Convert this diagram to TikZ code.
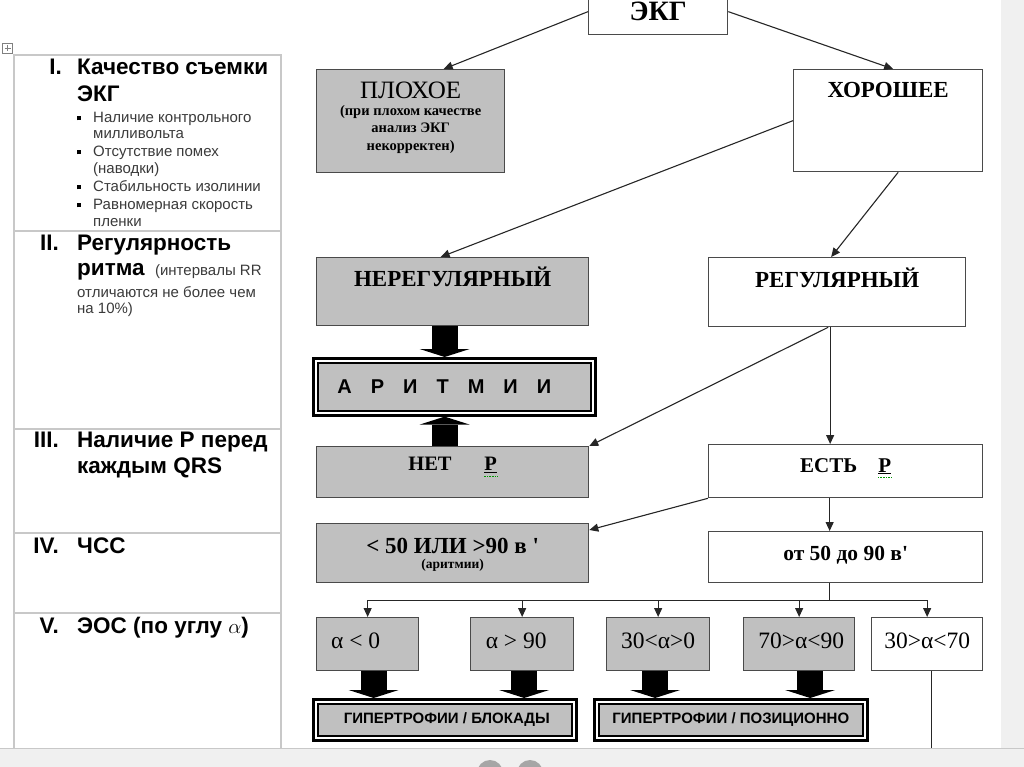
\documentclass[tikz,border=0pt]{standalone}
\usepackage{fontspec}
\setmainfont{Liberation Serif}
\setsansfont{Liberation Sans}
\usetikzlibrary{arrows.meta,positioning,calc}
\definecolor{boxgrey}{HTML}{C0C0C0}
\definecolor{boxline}{HTML}{4A4A4A}
\definecolor{rulegrey}{HTML}{C8C8C8}
\definecolor{notegrey}{HTML}{3A3A3A}
\definecolor{bargrey}{HTML}{F0F0F0}
\newcommand{\fs}[2]{\fontsize{#1}{#2}\selectfont}
\newcommand{\bul}{\raisebox{2.5pt}{\rule{4pt}{4pt}}}
\newcommand{\gap}{\hspace{0.95em}}
\tikzset{
    box/.style={
        draw=boxline,
        line width=1.3pt,
        inner sep=0pt,
        anchor=north west
    },
    greybox/.style={box, fill=boxgrey},
    framed/.style={
        draw=black,
        line width=2.6pt,
        fill=white,
        inner sep=0pt,
        anchor=north west,
        path picture={
            \filldraw[fill=boxgrey, line width=1.4pt]
              ([shift={(4.5pt,-4.5pt)}]path picture bounding box.north west) rectangle
              ([shift={(-4.5pt,4.5pt)}]path picture bounding box.south east);
        }
    },
    title/.style={inner sep=0pt, font=\bfseries\fs{23}{26}},
    note/.style={inner sep=0pt, align=center, font=\bfseries\fs{14.5}{17.5}},
    alab/.style={inner sep=0pt, font=\fs{23.5}{26}},
    frametext/.style={inner sep=0pt, font=\sffamily\bfseries\fs{15}{17}},
    lhead/.style={inner sep=0pt, anchor=base west, font=\sffamily\bfseries\fs{22.5}{26}},
    lnum/.style={inner sep=0pt, anchor=base east, font=\sffamily\bfseries\fs{22.5}{26}},
    lnote/.style={inner sep=0pt, anchor=base west, text=notegrey, font=\sffamily\fs{15}{17}},
    arrow/.style={
        -{Triangle[length=9pt,width=8pt]},
        line width=1.1pt,
        draw=black!85
    },
    line/.style={line width=1.1pt, draw=black!85},
    fat/.style={
        line width=26pt,
        -{Triangle[length=8pt,width=50pt,line width=0pt]}
    }
}

\begin{document}
\begin{tikzpicture}[x=1pt, y=-1pt]
\useasboundingbox (0,0) rectangle (1024,767);

% left table
\draw[rulegrey, line width=1.3pt] (14,55) rectangle (281,770);
\foreach \yy in {231,429,533,613}
    \draw[rulegrey, line width=1.3pt] (14,\yy) -- (281,\yy);
\draw[gray, line width=0.8pt] (2.5,43) rectangle (12.5,53);
\draw[gray, line width=0.8pt] (4.5,48) -- (10.5,48) (7.5,45) -- (7.5,51);

\node[lnum] (n1) at (62,75) {I.};
\node[lhead] (h1) at (77,75) {Качество съемки};
\node[lhead] (h1b) at (77,102) {ЭКГ};
\foreach \txt/\yy in {Наличие контрольного/123, милливольта/139,
    Отсутствие помех/157, (наводки)/174, Стабильность изолинии/192,
    Равномерная скорость/210, пленки/226}
    \node[lnote] at (93,\yy) {\txt};
\foreach \yy in {123,157,192,210}
    \node[lnote, text=black] at (77,\yy) {\bul};

\node[lnum] (n2) at (59,250) {II.};
\node[lhead] (h2) at (77,250) {Регулярность};
\node[lhead] (h2b) at (77,275) {ритма {\mdseries\color{notegrey}\fs{15}{17} (интервалы RR}};
\node[lnote] (h2c) at (77,297) {отличаются не более чем};
\node[lnote] (h2d) at (77,313) {на 10\%)};

\node[lnum] (n3) at (59,447) {III.};
\node[lhead] (h3) at (77,447) {Наличие Р перед};
\node[lhead] (h3b) at (77,473) {каждым QRS};

\node[lnum] (n4) at (59,553) {IV.};
\node[lhead] (h4) at (77,553) {ЧСС};

\node[lnum] (n5) at (59,633) {V.};
\node[lhead] (h5) at (77,633) {ЭОС (по углу $\alpha$)};

% flow chart
\node[box, minimum width=139pt, minimum height=46pt, font=\bfseries\fs{28}{30}]
    (ekg) at (588,-12) {ЭКГ};

\node[greybox, minimum width=188pt, minimum height=103pt] (bad) at (316,69) {};
\node[title, font=\fs{25}{28}, below=13pt of bad.north] (badt) {ПЛОХОЕ};
\node[note, below=6pt of badt] (badn) {(при плохом качестве\\анализ ЭКГ\\некорректен)};

\node[box, minimum width=189pt, minimum height=102pt] (good) at (793,69) {};
\node[title, below=13pt of good.north] (goodt) {ХОРОШЕЕ};

\node[greybox, minimum width=272pt, minimum height=68pt] (irr) at (316,257) {};
\node[title, below=10pt of irr.north] (irrt) {НЕРЕГУЛЯРНЫЙ};

\node[box, minimum width=257pt, minimum height=69pt] (reg) at (708,257) {};
\node[title, below=11pt of reg.north] (regt) {РЕГУЛЯРНЫЙ};

\node[framed, minimum width=282pt, minimum height=57pt] (arr) at (312,357) {};
\node[inner sep=0pt, font=\sffamily\bfseries\fs{20}{24}] (arrt) at ([xshift=-10pt]arr.center)
    {А\gap Р\gap И\gap Т\gap М\gap И\gap И};

\node[greybox, minimum width=272pt, minimum height=51pt] (nop) at (316,446) {};
\node[title, font=\bfseries\fs{20.5}{24}, below=11pt of nop.north] (nopt) {НЕТ\hspace{1.6em}\underline{Р}};

\node[box, minimum width=274pt, minimum height=53pt] (yesp) at (708,444) {};
\node[title, font=\bfseries\fs{21}{24}, below=14pt of yesp.north] (yespt) {ЕСТЬ\hspace{1em}\underline{Р}};

\node[greybox, minimum width=272pt, minimum height=59pt] (hrx) at (316,523) {};
\node[title, below=15pt of hrx.north] (hrxt) {< 50 ИЛИ >90 в \textquotesingle};
\node[note, font=\bfseries\fs{13.5}{15}, below=5pt of hrxt] (hrxn) {(аритмии)};

\node[box, minimum width=274pt, minimum height=51pt] (hrn) at (708,531) {};
\node[title, font=\bfseries\fs{21.5}{24}, below=15pt of hrn.north] (hrnt) {от 50 до 90 в\textquotesingle};

\node[greybox, minimum width=102pt, minimum height=53pt] (a1) at (316,617) {};
\node[greybox, minimum width=103pt, minimum height=53pt] (a2) at (470,617) {};
\node[greybox, minimum width=103pt, minimum height=53pt] (a3) at (606,617) {};
\node[greybox, minimum width=111pt, minimum height=53pt] (a4) at (743,617) {};
\node[box, minimum width=111pt, minimum height=53pt] (a5) at (871,617) {};
\node[alab] (a1t) at ([xshift=-12pt,yshift=3pt]a1.center) {α < 0};
\node[alab] (a2t) at ([xshift=-6pt,yshift=3pt]a2.center) {α > 90};
\node[alab] (a3t) at ([yshift=3pt]a3.center) {30<α>0};
\node[alab] (a4t) at ([xshift=2pt,yshift=3pt]a4.center) {70>α<90};
\node[alab] (a5t) at ([yshift=3pt]a5.center) {30>α<70};

\node[framed, minimum width=263pt, minimum height=41pt] (hb) at (312,698) {};
\node[frametext] (hbt) at ([xshift=2pt]hb.center) {ГИПЕРТРОФИИ / БЛОКАДЫ};
\node[framed, minimum width=273pt, minimum height=41pt] (hp) at (593,698) {};
\node[frametext] (hpt) at (hp.center) {ГИПЕРТРОФИИ / ПОЗИЦИОННО};

% connectors
\draw[arrow] (ekg.west) -- ([xshift=33pt]bad.north);
\draw[arrow] (ekg.east) -- ([xshift=5pt]good.north);
\draw[arrow] (good.west) -- ([xshift=-12pt]irr.north);
\draw[arrow] ([xshift=10pt]good.south) -- ([xshift=-6pt]reg.north);
\draw[arrow] ([xshift=-9pt]reg.south) -- (nop.north east);
\draw[arrow] ([xshift=-7pt]reg.south) -- ([xshift=-7pt]reg.south |- yesp.north);
\draw[arrow] (yesp.south west) -- ([yshift=-7pt]hrx.north east);
\draw[arrow] ([xshift=-16pt]yesp.south) -- ([xshift=-16pt]yesp.south |- hrn.north);

\draw[line] ([xshift=-16pt]hrn.south) -- ++(0,17) coordinate (split);
\draw[line] (a1.north |- split) -- (a5.north |- split);
\foreach \b in {a1,a2,a3,a4,a5}
    \draw[arrow] (\b.north |- split) -- (\b.north);
\coordinate (a5end) at ([xshift=4pt]a5.south |- 0,748);
\draw[line] ([xshift=4pt]a5.south) -- (a5end);

\draw[fat] ([xshift=-8pt]irr.south) -- ([xshift=-8pt]irr.south |- arr.north);
\draw[fat] ([xshift=-8pt]nop.north) -- ([xshift=-8pt]nop.north |- arr.south);
\draw[fat] ([xshift=6pt]a1.south) -- ([xshift=6pt]a1.south |- hb.north);
\draw[fat] ([xshift=2pt]a2.south) -- ([xshift=2pt]a2.south |- hb.north);
\draw[fat] ([xshift=-3pt]a3.south) -- ([xshift=-3pt]a3.south |- hp.north);
\draw[fat] ([xshift=11pt]a4.south) -- ([xshift=11pt]a4.south |- hp.north);

% spell-check marks
\draw[green!60!black, line width=0.6pt, densely dotted] ([yshift=-3pt]nopt.south east) -- ++(-14,0);
\draw[green!60!black, line width=0.6pt, densely dotted] ([yshift=-3pt]yespt.south east) -- ++(-14,0);

% viewer frame
\fill[bargrey] (1001,0) rectangle (1024,748);
\fill[bargrey] (0,748) rectangle (1024,767);
\draw[rulegrey, line width=0.8pt] (0,748) -- (1024,748);
\fill[black!35] (490,773) circle (13pt);
\fill[black!35] (530,773) circle (13pt);
\end{tikzpicture}
\end{document}
